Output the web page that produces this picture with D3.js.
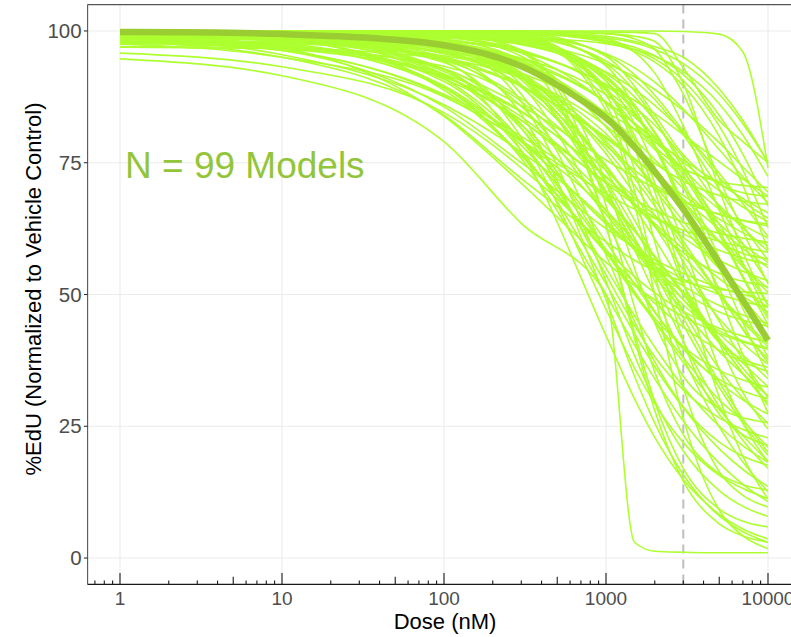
<!DOCTYPE html>
<html>
<head>
<meta charset="utf-8">
<script src="https://cdn.jsdelivr.net/npm/d3@7/dist/d3.min.js"></script>
<style>
  html, body { margin: 0; padding: 0; background: #ffffff; }
  svg { display: block; font-family: "Liberation Sans", Arial, Helvetica, sans-serif; }
</style>
</head>
<body>
<svg id="chart" width="791" height="637"></svg>
<script>
// ---------------- data ----------------
const doses = [1, 10, 100, 300, 1000, 1500, 2000, 3000, 5000, 7000, 10000];

// %EdU per model at each dose (99 models)
const modelCurves = [
  [98.6, 96.3, 85.6, 75.0, 62.5, 58.9, 56.6, 54.0, 51.3, 50.0, 48.8],
  [99.9, 98.9, 92.3, 83.7, 71.1, 67.1, 64.6, 61.5, 58.4, 56.9, 55.7],
  [97.9, 97.2, 91.4, 83.0, 71.4, 68.0, 66.0, 63.7, 61.6, 60.7, 59.9],
  [100, 99.9, 97.6, 91.6, 78.2, 73.6, 70.8, 67.7, 65.2, 64.1, 63.4],
  [100, 100, 98.9, 95.2, 83.0, 78.0, 74.9, 71.5, 68.8, 67.7, 67.1],
  [100, 100, 99.9, 98.8, 88.7, 82.2, 78.0, 73.9, 71.4, 70.7, 70.3],
  [98.9, 98.5, 94.4, 87.2, 73.5, 68.4, 65.0, 60.8, 56.5, 54.4, 52.6],
  [100, 100, 100, 99.6, 93.4, 85.5, 78.0, 67.7, 60.0, 57.8, 56.8],
  [99, 99, 97.5, 92.1, 74.5, 67.2, 62.8, 57.9, 54.0, 52.5, 51.5],
  [98, 97.8, 94.5, 85.7, 65.9, 59.1, 54.9, 50.5, 46.7, 45.1, 44.0],
  [100, 100, 99.9, 99.4, 95.5, 91.7, 87.8, 81.0, 72.2, 67.7, 64.5],
  [100, 99.9, 98.8, 95.8, 86.3, 81.3, 77.5, 72.1, 66.2, 63.2, 60.7],
  [98.0, 95.0, 84.0, 72.0, 60.0, 56.5, 54.5, 52.5, 51.0, 50.5, 50.2],
  [100, 100, 100, 99.7, 95.2, 89.5, 84.0, 76.5, 70.9, 69.3, 68.6],
  [98.9, 98.1, 92.8, 85.8, 75.5, 72.3, 70.2, 67.7, 65.2, 64.0, 63.0],
  [98.2, 96.3, 87.7, 79.2, 69.1, 66.2, 64.4, 62.2, 60.1, 59.0, 58.0],
  [99.4, 98.3, 89.3, 76.5, 58.5, 53.4, 50.3, 46.8, 43.6, 42.1, 41.0],
  [100, 99.9, 97.1, 86.6, 52.5, 38.4, 29.8, 20.3, 12.8, 9.8, 7.9],
  [98, 97.9, 95.0, 84.2, 49.0, 34.5, 25.6, 15.8, 8.0, 5.0, 3.0],
  [99, 98.8, 94.0, 81.6, 53.7, 44.1, 38.2, 31.9, 26.6, 24.4, 22.8],
  [97, 96.8, 92.8, 82.3, 58.5, 50.4, 45.5, 40.1, 35.6, 33.8, 32.4],
  [99.9, 99.1, 91.8, 79.2, 55.0, 46.0, 40.0, 32.5, 25.0, 21.3, 18.2],
  [97.9, 97.0, 89.3, 75.8, 50.0, 40.4, 34.0, 26.0, 18.0, 14.0, 10.7],
  [100, 100, 99.6, 96.0, 63.2, 41.7, 28.0, 14.6, 6.5, 4.2, 3.0],
  [100, 100, 99.6, 96.4, 66.9, 47.6, 35.3, 23.4, 16.0, 13.9, 12.9],
  [99, 99, 98.7, 96.0, 71.2, 55.0, 44.6, 34.5, 28.4, 26.6, 25.7],
  [100, 100, 100, 99.2, 86.1, 69.7, 54.0, 32.4, 16.4, 11.9, 9.7],
  [100, 100, 100, 99.3, 87.9, 73.7, 60.0, 41.2, 27.3, 23.4, 21.4],
  [99, 99, 99, 98.4, 89.3, 77.9, 67.0, 52.0, 40.8, 37.7, 36.2],
  [100, 99.8, 97.3, 90.7, 69.6, 58.5, 50.0, 38.0, 24.9, 18.2, 12.6],
  [99, 98.8, 96.7, 91.2, 73.5, 64.1, 57.0, 46.9, 35.9, 30.3, 25.6],
  [98, 97.9, 96.1, 91.5, 76.7, 69.0, 63.0, 54.6, 45.4, 40.7, 36.8],
  [100, 99.6, 96.2, 89.3, 71.5, 62.6, 55.7, 45.6, 33.4, 26.4, 20.1],
  [99, 98.7, 95.7, 89.7, 74.2, 66.5, 60.5, 51.7, 41.1, 35.0, 29.5],
  [100, 99.7, 97.2, 92.0, 78.6, 72.0, 66.8, 59.2, 50.1, 44.8, 40.1],
  [98.7, 97.3, 89.2, 78.3, 58.5, 50.6, 44.8, 37.1, 28.2, 23.2, 18.4],
  [99.7, 98.6, 91.6, 82.2, 65.2, 58.4, 53.5, 46.9, 39.2, 34.9, 30.8],
  [100, 100, 99.8, 98.6, 88.8, 79.3, 69.5, 52.4, 30.5, 19.3, 11.2],
  [100, 100, 99.8, 98.8, 90.5, 82.4, 74.1, 59.5, 40.9, 31.4, 24.5],
  [99, 99, 98.9, 98.0, 91.3, 84.7, 78.0, 66.2, 51.0, 43.3, 37.7],
  [100, 100, 99.9, 99.2, 93.8, 88.6, 83.2, 73.8, 61.8, 55.6, 51.2],
  [99.9, 99.5, 96.5, 91.1, 77.6, 70.7, 65.0, 56.3, 44.9, 37.6, 30.4],
  [98.9, 98.6, 95.9, 91.1, 79.1, 72.9, 67.9, 60.1, 50.0, 43.5, 37.1],
  [97.9, 97.6, 95.3, 91.1, 80.5, 75.1, 70.7, 63.9, 55.0, 49.3, 43.7],
  [100, 100, 99.6, 98.1, 90.5, 84.4, 78.4, 67.2, 50.0, 38.5, 27.5],
  [100, 100, 99.6, 98.3, 91.5, 86.0, 80.6, 70.5, 55.0, 44.7, 34.8],
  [99, 99, 98.7, 97.6, 92.0, 87.5, 83.0, 74.7, 62.0, 53.5, 45.4],
  [100, 100, 99.8, 98.9, 94.3, 90.6, 87.0, 80.3, 70.0, 63.1, 56.5],
  [100, 99.9, 98.8, 96.4, 88.8, 84.1, 79.9, 72.6, 61.4, 53.1, 44.3],
  [99, 98.9, 98.0, 96.0, 89.6, 85.6, 82.1, 76.0, 66.6, 59.6, 52.2],
  [100, 99.9, 99.2, 97.5, 92.2, 88.9, 85.9, 80.8, 73.0, 67.2, 61.0],
  [100, 100, 99.9, 99.6, 97.8, 96.1, 94.1, 89.6, 80.0, 70.7, 58.5],
  [100, 100, 99.9, 99.7, 98.2, 96.9, 95.3, 91.7, 84.0, 76.6, 66.8],
  [99, 99, 98.9, 98.7, 97.6, 96.5, 95.2, 92.3, 86.2, 80.2, 72.4],
  [98.6, 97.3, 90.9, 83.1, 68.4, 62.2, 57.3, 50.4, 41.7, 36.0, 30.6],
  [97.7, 96.6, 91.2, 84.6, 72.4, 67.1, 63.1, 57.2, 49.9, 45.2, 40.6],
  [99.7, 98.9, 94.7, 89.5, 79.9, 75.8, 72.6, 68.1, 62.4, 58.7, 55.1],
  [97.8, 96.9, 91.8, 84.8, 72.2, 67.2, 63.5, 58.6, 53.0, 49.7, 46.7],
  [99.9, 99.2, 92.7, 81.5, 60.0, 52.0, 46.6, 40.0, 33.4, 30.0, 27.3],
  [99.8, 98.4, 88.8, 76.3, 57.9, 52.1, 48.3, 43.8, 39.4, 37.2, 35.4],
  [98.8, 97.6, 89.6, 79.0, 63.5, 58.6, 55.5, 51.6, 47.9, 46.1, 44.5],
  [99.9, 98.9, 90.9, 79.4, 63.4, 58.8, 56.0, 52.9, 50.0, 48.7, 47.6],
  [99.5, 96.8, 83.8, 71.1, 56.1, 51.7, 49.0, 45.8, 42.6, 41.0, 39.6],
  [100, 99.9, 97.4, 88.0, 57.5, 44.9, 37.2, 28.7, 22.0, 19.3, 17.6],
  [100, 99.9, 97.8, 89.8, 64.0, 53.3, 46.8, 39.6, 33.9, 31.7, 30.2],
  [100, 99.7, 94.2, 79.8, 47.2, 36.1, 29.3, 21.9, 15.7, 13.2, 11.3],
  [100, 100, 99.9, 99.8, 98.7, 97.7, 96.5, 93.8, 88.0, 82.4, 75.1],
  [100, 100, 99.9, 99.6, 98.0, 96.5, 94.7, 90.6, 82.0, 73.6, 62.7],
  [100, 100, 99.8, 99.1, 95.7, 93.0, 90.3, 85.2, 77.5, 72.3, 67.4],
  [100, 99.9, 99.3, 98.0, 93.8, 91.3, 88.9, 84.9, 78.8, 74.2, 69.4],
  [99.9, 99.7, 97.9, 94.7, 86.6, 82.4, 79.0, 73.8, 66.9, 62.6, 58.2],
  [100, 99.8, 98.4, 96.0, 89.9, 86.8, 84.3, 80.3, 75.2, 71.9, 68.7],
  [100, 99.8, 97.9, 94.1, 84.3, 79.4, 75.6, 70.1, 63.4, 59.5, 56.1],
  [99, 98.8, 97.3, 94.3, 86.5, 82.5, 79.5, 75.1, 69.7, 66.6, 63.8],
  [100, 99.9, 98.4, 94.4, 81.8, 75.1, 70.0, 62.8, 54.9, 50.9, 47.6],
  [99.9, 99.2, 95.1, 89.6, 79.6, 75.6, 72.7, 68.8, 64.3, 61.7, 59.3],
  [99.8, 99.2, 95.9, 92.0, 84.6, 81.4, 79.0, 75.5, 71.1, 68.2, 65.5],
  [99, 99, 98.7, 97.4, 91.0, 85.9, 80.9, 71.4, 57.0, 47.3, 38.1],
  [98, 97.9, 96.9, 94.8, 87.9, 83.7, 79.9, 73.3, 63.3, 55.8, 47.9],
  [99, 99, 98.8, 97.7, 88.8, 80.2, 71.2, 55.7, 35.8, 25.6, 18.2],
  [100, 100, 100, 99.1, 84.9, 67.1, 50.0, 26.5, 9.1, 4.2, 1.8],
  [98, 98, 97.6, 94.2, 63.0, 42.7, 29.6, 17.0, 9.3, 7.0, 5.9],
  [99, 98.7, 92.8, 77.2, 42.2, 30.2, 22.9, 14.9, 8.3, 5.5, 3.6],
  [100, 99.8, 97.4, 91.2, 71.1, 60.6, 52.5, 41.1, 28.7, 22.3, 17.0],
  [98.9, 98.1, 90.4, 77.3, 52.0, 42.6, 36.3, 28.5, 20.7, 16.8, 13.6],
  [100, 99.9, 98.1, 91.3, 69.0, 59.8, 54.2, 48.0, 43.1, 41.2, 39.9],
  [94.7, 91.5, 79.0, 63.5, 50.0, 3.0, 1.3, 1.1, 1.0, 1.0, 1.0],
  [95.8, 93.2, 84.5, 74.0, 58.0, 50.0, 45.0, 38.0, 30.0, 26.0, 21.0],
  [100, 100, 100, 100, 100, 100, 100, 99.9, 99.4, 96.0, 74.0],
  [100, 100, 100, 100, 99.8, 99.7, 99.5, 93.0, 83.0, 79.0, 75.0],
  [100, 100, 100, 99.8, 99.0, 98.0, 97.0, 95.0, 89.0, 83.0, 75.0],
  [100, 100, 100, 100, 99.5, 99.0, 98.0, 90.0, 70.0, 58.0, 48.0],
  [100, 100, 100, 99.9, 99.5, 98.5, 96.5, 88.0, 72.0, 62.0, 52.0],
  [100, 100, 99.9, 99.7, 98.5, 96.0, 92.0, 82.0, 66.0, 56.0, 46.0],
  [97, 96.6, 93.3, 86.6, 69.4, 60.7, 54.0, 44.2, 32.4, 25.6, 19.5],
  [96.9, 96.7, 94.7, 91.0, 82.0, 77.4, 73.6, 67.7, 60.1, 55.2, 50.4],
  [98.5, 95.5, 86.0, 77.0, 64.0, 58.5, 54.5, 49.0, 42.5, 38.5, 34.0],
  [99.0, 96.5, 88.0, 80.0, 68.0, 62.0, 57.0, 50.0, 41.0, 35.0, 29.0],
  [97.5, 95.0, 87.5, 79.0, 66.0, 60.0, 55.5, 49.0, 41.5, 37.0, 32.5]
];

// pooled (thick) curve
const meanCurve = [99.8, 99.4, 97.3, 93.3, 83.5, 78.0, 73.3, 66.2, 56.0, 48.9, 41.3];

const xTicks = [1, 10, 100, 1000, 10000];
const xTickLabels = ["1", "10", "100", "1000", "10000"];
const yTicks = [0, 25, 50, 75, 100];
const yTickLabels = ["0", "25", "50", "75", "100"];
const refDose = [3000];
const annotationText = ["N = 99 Models"];
const xTitle = "Dose (nM)";
const yTitle = "%EdU (Normalized to Vehicle Control)";

// ---------------- layout ----------------
const svg = d3.select("#chart");
const panel = { left: 87.6, right: 800.4, top: 4.6, bottom: 584.4 };

const x = d3.scaleLog()
  .domain([Math.pow(10, -0.2), Math.pow(10, 4.2)])
  .range([panel.left, panel.right]);
const y = d3.scaleLinear()
  .domain([-5, 105])
  .range([panel.bottom, panel.top]);

const colLine = "#ADFF2F";
const colMean = "#9ACD32";
const colText = "#93C53A";

// background
svg.append("rect").attr("x", 0).attr("y", 0).attr("width", 791).attr("height", 637).attr("fill", "#ffffff");

// grid
const grid = svg.append("g");
grid.selectAll("line.gy").data(yTicks).join("line")
  .attr("x1", panel.left).attr("x2", panel.right)
  .attr("y1", d => y(d)).attr("y2", d => y(d))
  .attr("stroke", "#EBEBEB").attr("stroke-width", 1.1);
grid.selectAll("line.gx").data(xTicks).join("line")
  .attr("y1", panel.top).attr("y2", panel.bottom)
  .attr("x1", d => x(d)).attr("x2", d => x(d))
  .attr("stroke", "#EBEBEB").attr("stroke-width", 1.1);

// dashed reference dose
svg.append("g").selectAll("line").data(refDose).join("line")
  .attr("x1", d => x(d)).attr("x2", d => x(d))
  .attr("y1", panel.top).attr("y2", panel.bottom)
  .attr("stroke", "#BEBEBE").attr("stroke-width", 2)
  .attr("stroke-dasharray", "9,6");

// curves
const line = d3.line()
  .x((d, i) => x(doses[i]))
  .y(d => y(d))
  .curve(d3.curveMonotoneX);

const smoothLine = d3.line()
  .x((d, i) => x(doses[i]))
  .y(d => y(d))
  .curve(d3.curveCatmullRom.alpha(0.5));

svg.append("g").selectAll("path").data(modelCurves).join("path")
  .attr("d", line)
  .attr("fill", "none")
  .attr("stroke", colLine)
  .attr("stroke-width", 1.6);

svg.append("path").datum(meanCurve)
  .attr("d", smoothLine)
  .attr("fill", "none")
  .attr("stroke", colMean)
  .attr("stroke-width", 6.5);

// annotation
svg.append("g").selectAll("text").data(annotationText).join("text")
  .attr("x", x(1) + 5)
  .attr("y", y(75) + 15)
  .attr("font-size", 37)
  .attr("fill", colText)
  .text(d => d);

// panel border (top, left) and bottom axis line
svg.append("line").attr("x1", panel.left).attr("x2", panel.right)
  .attr("y1", panel.top).attr("y2", panel.top)
  .attr("stroke", "#555555").attr("stroke-width", 1.1);
svg.append("line").attr("x1", panel.left).attr("x2", panel.left)
  .attr("y1", panel.top).attr("y2", panel.bottom)
  .attr("stroke", "#555555").attr("stroke-width", 1.1);
svg.append("line").attr("x1", panel.left).attr("x2", panel.right)
  .attr("y1", panel.bottom).attr("y2", panel.bottom)
  .attr("stroke", "#1a1a1a").attr("stroke-width", 1.2);

// log ticks along bottom (annotation_logticks style)
const logTicks = [];
for (let e = -1; e <= 4; e++) {
  for (let k = 1; k <= 9; k++) {
    const v = k * Math.pow(10, e);
    if (v >= x.domain()[0] && v <= x.domain()[1]) logTicks.push({ v, k });
  }
}
svg.append("g").selectAll("line").data(logTicks).join("line")
  .attr("x1", d => x(d.v)).attr("x2", d => x(d.v))
  .attr("y1", panel.bottom)
  .attr("y2", d => panel.bottom - (d.k === 1 ? 11.3 : d.k === 5 ? 7.6 : 3.8))
  .attr("stroke", "#1a1a1a").attr("stroke-width", 1.1);

// y axis ticks and labels
const yAxisG = svg.append("g");
yAxisG.selectAll("line").data(yTicks).join("line")
  .attr("x1", panel.left - 3.7).attr("x2", panel.left)
  .attr("y1", d => y(d)).attr("y2", d => y(d))
  .attr("stroke", "#333333").attr("stroke-width", 1.1);
yAxisG.selectAll("text").data(yTicks).join("text")
  .attr("x", panel.left - 6)
  .attr("y", d => y(d) + 7.2)
  .attr("text-anchor", "end")
  .attr("font-size", 20.5)
  .attr("fill", "#4D4D4D")
  .text((d, i) => yTickLabels[i]);

// x tick labels
svg.append("g").selectAll("text").data(xTicks).join("text")
  .attr("x", d => x(d))
  .attr("y", 605)
  .attr("text-anchor", "middle")
  .attr("font-size", 19)
  .attr("fill", "#4D4D4D")
  .text((d, i) => xTickLabels[i]);

// axis titles
svg.append("text")
  .attr("x", 445).attr("y", 629)
  .attr("text-anchor", "middle")
  .attr("font-size", 22)
  .attr("fill", "#000000")
  .text(xTitle);

svg.append("text")
  .attr("transform", "translate(41," + 289 + ") rotate(-90)")
  .attr("text-anchor", "middle")
  .attr("font-size", 22)
  .attr("fill", "#000000")
  .text(yTitle);
</script>
</body>
</html>
